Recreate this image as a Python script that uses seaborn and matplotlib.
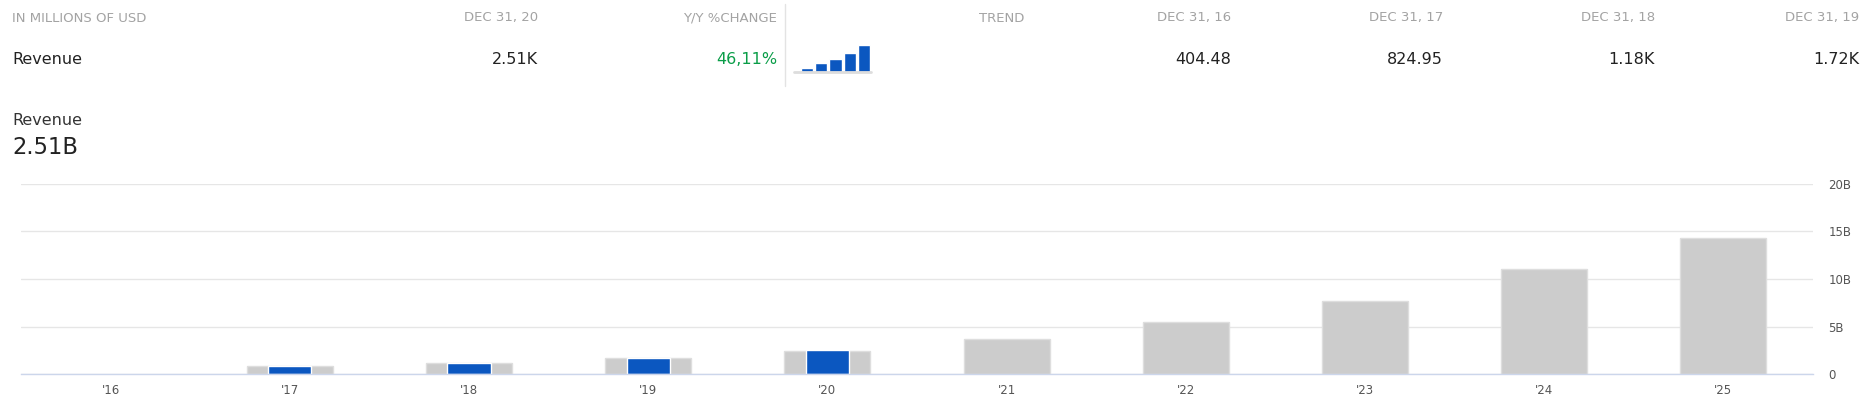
import numpy as np
import pandas as pd
import matplotlib.pyplot as plt
from matplotlib.lines import Line2D
from matplotlib.ticker import FuncFormatter
import seaborn as sns

# Data
years = ["'16", "'17", "'18", "'19", "'20", "'21", "'22", "'23", "'24", "'25"]
revenue_actual_b = [np.nan, 0.825, 1.18, 1.72, 2.51, np.nan, np.nan, np.nan, np.nan, np.nan]
revenue_estimate_b = [np.nan, 0.80, 1.15, 1.68, 2.45, 3.70, 5.45, 7.70, 11.10, 14.30]

header_labels = ["DEC 31, 20", "Y/Y %CHANGE", "TREND", "DEC 31, 16", "DEC 31, 17", "DEC 31, 18", "DEC 31, 19"]
header_values = ["2.51K", "46,11%", "", "404.48", "824.95", "1.18K", "1.72K"]
trend_periods = ["16", "17", "18", "19", "20"]
trend_values = [404.48, 824.95, 1180, 1720, 2510]

W, H = 1872, 415
sns.set_style("white")
plt.rcParams['font.family'] = ['DejaVu Sans']

fig = plt.figure(figsize=(W / 100, H / 100), dpi=100)


def fx(px):
    return px / W


def fy(py):
    return 1 - py / H


# ---- summary table on top ----
fig.text(fx(12), fy(18), "IN MILLIONS OF USD", fontsize=9.5, color="#a3a3a3", va="center", ha="left")
fig.text(fx(12), fy(60), "Revenue", fontsize=11.5, color="#222222", va="center", ha="left")

col_right = [538, 777, 1024, 1231, 1443, 1655, 1859]
for xr, lab, val in zip(col_right, header_labels, header_values):
    fig.text(fx(xr), fy(18), lab, fontsize=9.5, color="#a3a3a3", va="center", ha="right")
    if val:
        col = "#0a9d48" if "%" in val else "#222222"
        fig.text(fx(xr), fy(60), val, fontsize=11.5, color=col, va="center", ha="right")

fig.add_artist(Line2D([fx(785), fx(785)], [fy(4), fy(86)], color="#e3e3e3", lw=1))

# sparkline
spark = fig.add_axes([fx(794), fy(72), 77 / W, 27 / H])
sns.barplot(x=trend_periods, y=trend_values, color="#0b57c0", width=0.85,
            errorbar=None, saturation=1, ax=spark)
spark.set_xlim(-0.92, 4.5)
spark.set_ylim(0, max(trend_values))
spark.axis("off")
spark.add_line(Line2D([0, 1], [0, 0], transform=spark.transAxes, color="#dddddd", lw=2, clip_on=False))

# ---- chart title ----
fig.text(fx(12), fy(120), "Revenue", fontsize=11.5, color="#333333", va="center", ha="left")
fig.text(fx(12), fy(147), "2.51B", fontsize=16.3, color="#222222", va="center", ha="left")

# ---- main bar chart ----
ax = fig.add_axes([fx(21), fy(374), (1813 - 21) / W, (374 - 184) / H])
df = pd.DataFrame({"year": years, "estimate": revenue_estimate_b, "actual": revenue_actual_b})

sns.barplot(data=df, x="year", y="estimate", order=years, color="#cccccc", width=0.48,
            errorbar=None, saturation=1, edgecolor="#dedede", linewidth=1, ax=ax)
sns.barplot(data=df, x="year", y="actual", order=years, color="#0b57c0", width=0.24,
            errorbar=None, saturation=1, edgecolor="#ffffff", linewidth=1, ax=ax)

ax.set_xlim(-0.5, len(years) - 0.5)
ax.set_ylim(0, 20)
ax.set_yticks([0, 5, 10, 15, 20])
ax.yaxis.set_major_formatter(FuncFormatter(lambda v, p: "0" if v == 0 else f"{v:.0f}B"))
ax.yaxis.tick_right()
ax.set_axisbelow(True)
ax.grid(axis="y", color="#e6e6e6", lw=1)
ax.grid(axis="x", visible=False)
ax.tick_params(axis="y", length=0, pad=11, labelsize=8.5, labelcolor="#555555")
ax.tick_params(axis="x", length=0, pad=7, labelsize=8.5, labelcolor="#555555")
ax.set_xlabel("")
ax.set_ylabel("")
for side in ["top", "left", "right"]:
    ax.spines[side].set_visible(False)
ax.spines["bottom"].set_color("#ccd6eb")
ax.spines["bottom"].set_linewidth(1)

fig.savefig("out.png", dpi=100)
